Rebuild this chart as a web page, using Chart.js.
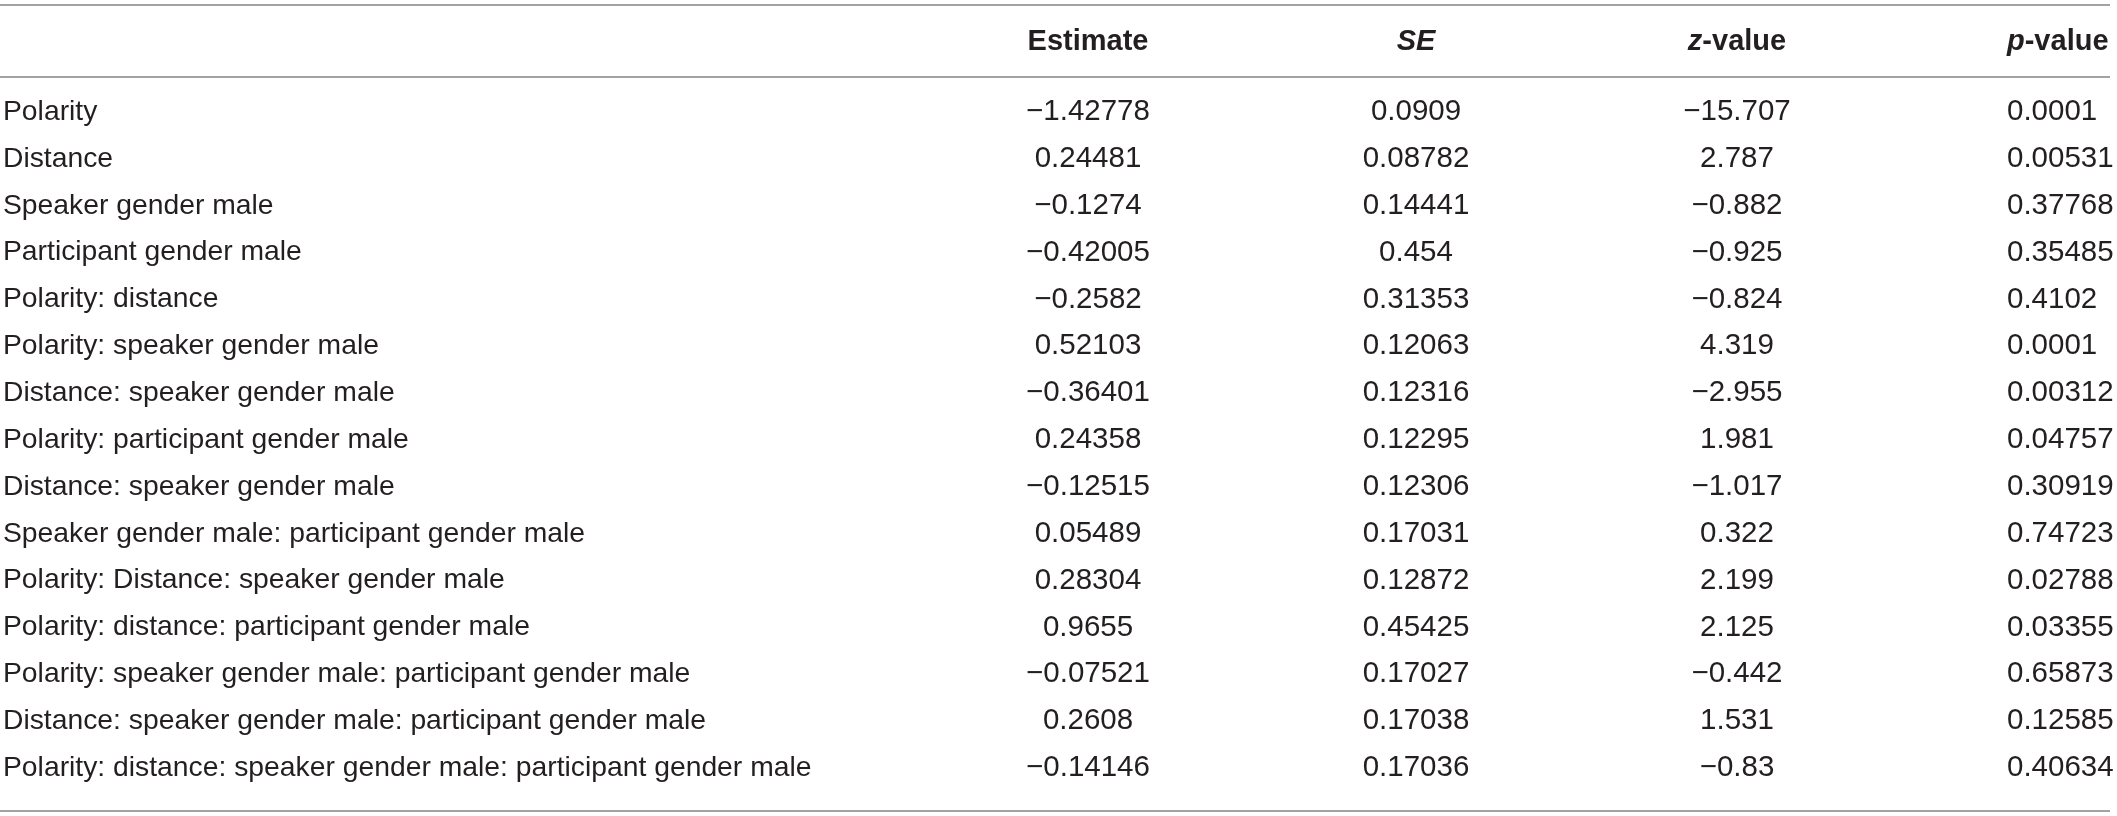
<!DOCTYPE html>
<html>
<head>
<meta charset="utf-8">
<title>Model estimates</title>
<script src="https://cdn.jsdelivr.net/npm/chart.js@4.4.1/dist/chart.umd.min.js"></script>
<style>
  html, body { margin: 0; padding: 0; background: #fff; }
  #wrap { width: 2117px; height: 816px; }
</style>
</head>
<body>
<div id="wrap"><canvas id="tableChart" width="2117" height="816"></canvas></div>
<script>
// --- Table data ---
const terms = [
  "Polarity",
  "Distance",
  "Speaker gender male",
  "Participant gender male",
  "Polarity: distance",
  "Polarity: speaker gender male",
  "Distance: speaker gender male",
  "Polarity: participant gender male",
  "Distance: speaker gender male",
  "Speaker gender male: participant gender male",
  "Polarity: Distance: speaker gender male",
  "Polarity: distance: participant gender male",
  "Polarity: speaker gender male: participant gender male",
  "Distance: speaker gender male: participant gender male",
  "Polarity: distance: speaker gender male: participant gender male"
];
const estimates = [-1.42778, 0.24481, -0.1274, -0.42005, -0.2582, 0.52103, -0.36401, 0.24358,
  -0.12515, 0.05489, 0.28304, 0.9655, -0.07521, 0.2608, -0.14146];
const stdErrors = [0.0909, 0.08782, 0.14441, 0.454, 0.31353, 0.12063, 0.12316, 0.12295,
  0.12306, 0.17031, 0.12872, 0.45425, 0.17027, 0.17038, 0.17036];
const zValues = [-15.707, 2.787, -0.882, -0.925, -0.824, 4.319, -2.955, 1.981,
  -1.017, 0.322, 2.199, 2.125, -0.442, 1.531, -0.83];
const pValues = [0.0001, 0.00531, 0.37768, 0.35485, 0.4102, 0.0001, 0.00312, 0.04757,
  0.30919, 0.74723, 0.02788, 0.03355, 0.65873, 0.12585, 0.40634];
const columnHeaders = ["Estimate", "SE", "z-value", "p-value"];

// --- Layout / style (kept apart from the data) ---
const FONT = "'Liberation Sans', Helvetica, Arial, sans-serif";
const TEXT_COLOR = "#231f20";
const RULE_COLOR = "#a3a3a3";
const COL_X = [3, 1088, 1416, 1737, 2007];          // x-scale units (label, Estimate, SE, z, p)
const COL_ALIGN = ["left", "center", "center", "center", "left"];
const HEADER_ITALIC = [0, 2, 1, 1];                  // leading italic chars of each header
const HEADER_ROW = -1.5;                             // y-scale units
const RULES_AT = [-2.28, -0.75, 14.92];
const RULE_FROM = 0, RULE_TO = 2110;

const fmt = v => String(v).replace("-", "\u2212");

// --- Draws the rules, header and cell text at the scale positions ---
const tableText = {
  id: "tableText",
  afterDatasetsDraw(chart) {
    const { ctx } = chart;
    const xs = chart.scales.x, ys = chart.scales.y;
    ctx.save();

    ctx.strokeStyle = RULE_COLOR;
    ctx.lineWidth = 2;
    RULES_AT.forEach(v => {
      const py = Math.round(ys.getPixelForValue(v));
      ctx.beginPath();
      ctx.moveTo(xs.getPixelForValue(RULE_FROM), py);
      ctx.lineTo(xs.getPixelForValue(RULE_TO), py);
      ctx.stroke();
    });

    // header, with italic parts
    ctx.fillStyle = TEXT_COLOR;
    ctx.textBaseline = "middle";
    ctx.textAlign = "left";
    const hy = ys.getPixelForValue(HEADER_ROW);
    columnHeaders.forEach((h, c) => {
      const parts = [
        { text: h.slice(0, HEADER_ITALIC[c]), font: "italic bold 29px " + FONT },
        { text: h.slice(HEADER_ITALIC[c]), font: "bold 29px " + FONT }
      ];
      let w = 0;
      parts.forEach(p => { ctx.font = p.font; p.w = ctx.measureText(p.text).width; w += p.w; });
      const ax = xs.getPixelForValue(COL_X[c + 1]);
      let px = COL_ALIGN[c + 1] === "center" ? ax - w / 2 : ax;
      parts.forEach(p => { ctx.font = p.font; ctx.fillText(p.text, px, hy); px += p.w; });
    });

    // body cells, one dataset per column
    chart.data.datasets.forEach((ds, d) => {
      const meta = chart.getDatasetMeta(d);
      ctx.font = ds.cellFont;
      ctx.textAlign = ds.cellAlign;
      meta.data.forEach((pt, i) => ctx.fillText(ds.cellText[i], pt.x, pt.y));
    });
    ctx.restore();
  }
};

const columns = [terms, estimates, stdErrors, zValues, pValues];

const datasets = columns.map((col, c) => ({
  label: c === 0 ? "Term" : columnHeaders[c - 1],
  data: col.map((_, i) => ({ x: COL_X[c], y: terms[i] })),
  cellText: col.map(v => (c === 0 ? v : fmt(v))),
  cellAlign: COL_ALIGN[c],
  cellFont: (c === 0 ? "28.3px " : "29.5px ") + FONT,
  pointRadius: 0,
  pointHoverRadius: 0,
  showLine: false
}));

const ctx = document.getElementById("tableChart").getContext("2d");
const chart = new Chart(ctx, {
  type: "scatter",
  data: { datasets },
  options: {
    responsive: false,
    animation: false,
    devicePixelRatio: 1,
    events: [],
    layout: { padding: { top: 88.6, bottom: 24.6, left: 0, right: 0 } },
    plugins: { legend: { display: false }, tooltip: { enabled: false } },
    scales: {
      x: { type: "linear", min: 0, max: 2117, display: false },
      y: { type: "category", labels: terms, offset: true, display: false }
    }
  },
  plugins: [tableText]
});
</script>
</body>
</html>
